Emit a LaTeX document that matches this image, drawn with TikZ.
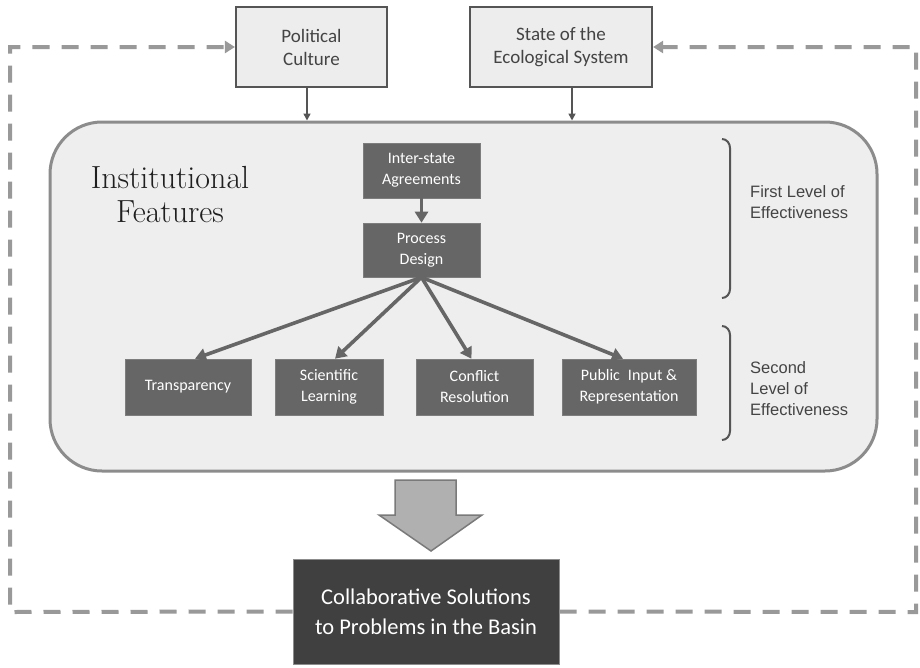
\documentclass[tikz,border=0pt]{standalone}
\usepackage{fontspec}
\newfontfamily\calf{Carlito}
\newfontfamily\arialf{Liberation Sans}
\usetikzlibrary{arrows.meta}
\definecolor{lightfill}{HTML}{EDEDED}
\definecolor{boxborder}{HTML}{555555}
\definecolor{panelfill}{HTML}{EEEEEE}
\definecolor{panelborder}{HTML}{8C8C8C}
\definecolor{darkfill}{HTML}{666666}
\definecolor{collabfill}{HTML}{404040}
\definecolor{dashgray}{HTML}{999999}
\definecolor{textgray}{HTML}{444444}
\definecolor{blockfill}{HTML}{B0B0B0}
\definecolor{blockborder}{HTML}{7A7A7A}
\begin{document}
\begin{tikzpicture}[x=1pt,y=-1pt,
  lightbox/.style={draw=boxborder, line width=2.2pt, fill=lightfill, text=textgray,
    font=\calf\fontsize{19}{23}\selectfont, align=center, inner sep=0pt},
  darkbox/.style={fill=darkfill, draw=darkfill!85!white, line width=0.6pt, text=white,
    font=\calf\fontsize{16}{21}\selectfont, align=center, inner sep=0pt},
  panelbox/.style={draw=panelborder, line width=3pt, fill=panelfill, rounded corners=52pt, inner sep=0pt},
  collabbox/.style={fill=collabfill, draw=panelborder, line width=1pt, text=white,
    font=\calf\fontsize{22.5}{30}\selectfont, align=center, inner sep=0pt},
  thinarrow/.style={draw=boxborder, line width=1.6pt, -{Triangle[length=7pt,width=7pt]}},
  fatarrow/.style={draw=darkfill, line width=3.6pt, -{Triangle[length=11pt,width=13pt]}},
  loopline/.style={draw=dashgray, line width=4pt, dash pattern=on 17pt off 12pt, -{Triangle[length=10pt,width=12pt]}},
  bracket/.style={draw=boxborder, line width=2pt},
  levellabel/.style={anchor=west, align=left, text=textgray, font=\arialf\fontsize{16.5}{21}\selectfont, inner sep=0pt}
]
\useasboundingbox (0,0) rectangle (920,667);
\fill[white] (0,0) rectangle (920,667);

% panel
\node[panelbox, minimum width=827pt, minimum height=349pt] (panel) at (463.5,296.5) {};

% top boxes
\node[lightbox, minimum width=151pt, minimum height=80pt] (pc) at (311.5,47) {Political\\Culture};
\node[lightbox, minimum width=182pt, minimum height=80pt] (eco) at (561,47) {State of the\\Ecological System};

\draw[thinarrow] ([xshift=-4.5pt]pc.south) -- ([xshift=-4.5pt]pc.south |- panel.north);
\draw[thinarrow] ([xshift=11pt]eco.south) -- ([xshift=11pt]eco.south |- panel.north);

% title
\node[font=\fontsize{32}{34}\selectfont, text=black!88, align=center] (title) at (170,195) {Institutional\\Features};

% inner boxes
\node[darkbox, minimum width=117pt, minimum height=55pt] (isa) at (421.5,170.5) {Inter-state\\Agreements};
\node[darkbox, minimum width=117pt, minimum height=54pt] (pd) at (421.5,250) {Process\\Design};
\node[darkbox, minimum width=126pt, minimum height=56pt] (tr) at (188,387) {Transparency};
\node[darkbox, minimum width=108pt, minimum height=56pt] (sl) at (329,387) {Scientific\\Learning};
\node[darkbox, minimum width=117pt, minimum height=56pt] (cr) at (474.5,387) {Conflict\\Resolution};
\node[darkbox, minimum width=134pt, minimum height=56pt] (pi) at (629,387) {Public\enspace Input \&\\Representation};

\draw[fatarrow] (isa.south) -- (pd.north);
\draw[fatarrow] (pd.south) -- ([xshift=7pt]tr.north);
\draw[fatarrow] (pd.south) -- ([xshift=6pt]sl.north);
\draw[fatarrow] (pd.south) -- ([xshift=-3pt]cr.north);
\draw[fatarrow] (pd.south) -- ([xshift=-6pt]pi.north);

% brackets
\draw[bracket] (722,139) to[out=0,in=90] (730,148) -- (730,289) to[out=-90,in=0] (722,298);
\draw[bracket] (722,326) to[out=0,in=90] (730,335) -- (730,431) to[out=-90,in=0] (722,440);
\node[levellabel] (lvl1) at (750,202) {First Level of\\Effectiveness};
\node[levellabel] (lvl2) at (750,389) {Second\\Level of\\Effectiveness};

% block arrow
\draw[fill=blockfill, draw=blockborder, line width=1.5pt, line join=miter]
  (395,480) -- (456,480) -- (456,515) -- (482,515) -- (431,551) -- (379,515) -- (395,515) -- cycle;

% outcome
\node[collabbox, minimum width=266pt, minimum height=105pt] (cs) at (426,611.5) {Collaborative Solutions\\to Problems in the Basin};

% feedback loops
\coordinate (lb) at (10,612);
\coordinate (lt) at (10,47);
\coordinate (rb) at (916,612);
\coordinate (rt) at (916,47);
\draw[loopline] (cs.west) -- (lb) -- (lt) -- (pc.west);
\draw[loopline] (cs.east) -- (rb) -- (rt) -- (eco.east);
\end{tikzpicture}
\end{document}
